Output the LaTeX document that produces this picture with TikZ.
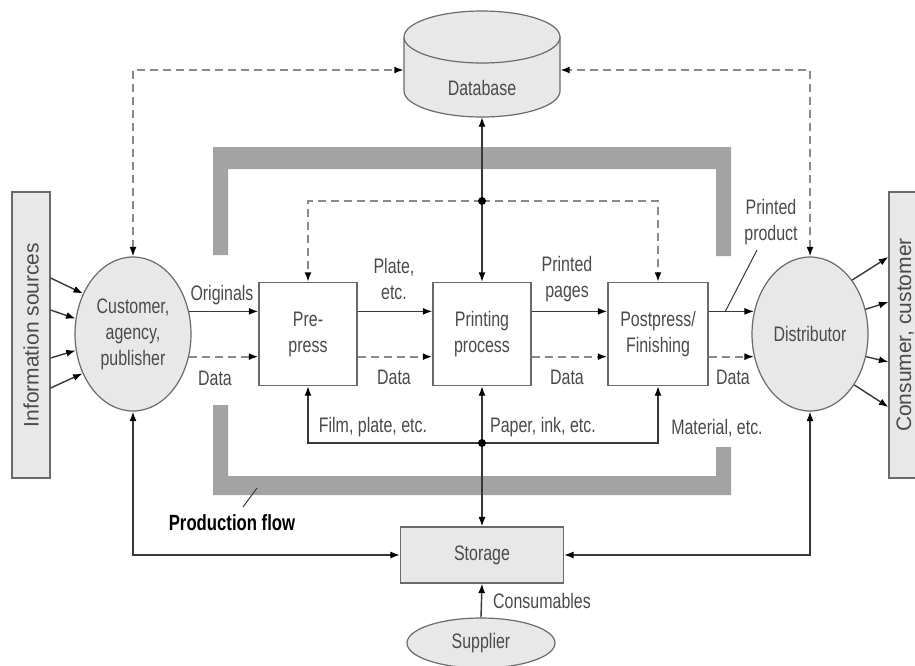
\documentclass[tikz,border=0pt]{standalone}
\usepackage{fontspec}
\setmainfont[FakeStretch=0.76]{Liberation Sans}
\newfontfamily\widefont{Liberation Sans}
\usetikzlibrary{arrows.meta,shapes.geometric,calc}
\definecolor{txt}{HTML}{4A4A4A}
\definecolor{bord}{HTML}{6A6A6A}
\definecolor{lightfill}{HTML}{E8E8E8}
\definecolor{lnc}{HTML}{383838}
\definecolor{dashc}{HTML}{8A8A8A}
\definecolor{flowc}{HTML}{A3A3A3}
\begin{document}
\begin{tikzpicture}[x=1pt,y=-1pt,
  every node/.style={font=\fontsize{21}{26}\selectfont, text=txt, inner sep=0pt},
  >={Latex[length=9.5pt,width=7pt,color=black]},
  greybox/.style={draw=bord, fill=lightfill, line width=1.2pt},
  procbox/.style={draw=bord, fill=white, line width=1.4pt, minimum width=98pt, minimum height=103pt, align=center},
  oval/.style={ellipse, draw=bord, fill=lightfill, line width=1.2pt, align=center},
  conn/.style={draw=lnc, line width=1.4pt},
  dline/.style={draw=dashc, line width=1.7pt, dash pattern=on 8pt off 5pt},
  lbl/.style={align=center},
  leader/.style={draw=lnc, line width=1pt}
]
\useasboundingbox (0,0) rectangle (915,665);

% production flow brackets
\fill[flowc] (213,147) -- (731,147) -- (731,256) -- (716,256) -- (716,169) -- (228,169) -- (228,255) -- (213,255) -- cycle;
\fill[flowc] (213,405) -- (228,405) -- (228,476) -- (716,476) -- (716,447) -- (731,447) -- (731,495) -- (213,495) -- cycle;

% database cylinder
\filldraw[fill=lightfill, draw=bord, line width=1.2pt] (404,37) -- (404,91) arc[start angle=180, end angle=0, x radius=78, y radius=26] -- (560,37);
\filldraw[fill=lightfill, draw=bord, line width=1.2pt] (482,37) ellipse [x radius=78, y radius=26];
\node (db) at (482,88) [minimum width=156pt, minimum height=58pt] {Database};

% side boxes
\node (info) at (31,335) [greybox, minimum width=38pt, minimum height=286pt] {\rotatebox{90}{\widefont Information sources}};
\node (cons) at (908,335) [greybox, minimum width=38pt, minimum height=286pt] {\hspace*{-6pt}\rotatebox{90}{\widefont Consumer, customer}};

% main nodes
\node (cust) at (133,334) [oval, minimum width=116pt, minimum height=154pt] {Customer,\\agency,\\publisher};
\node (dist) at (810,334) [oval, minimum width=116pt, minimum height=154pt] {Distributor};
\node (pre) at (308,334) [procbox] {Pre-\\press};
\node (print) at (482,334) [procbox] {Printing\\process};
\node (post) at (658,334) [procbox, minimum width=100pt] {Postpress/\\Finishing};
\node (stor) at (482,555) [greybox, minimum width=163pt, minimum height=56pt] {Storage};
\node (sup) at (481,643) [oval, minimum width=148pt, minimum height=50pt] {Supplier};

% information sources -> customer
\draw[conn,->] ([yshift=57pt]info.east) -- (cust.141);
\draw[conn,->] ([yshift=25pt]info.east) -- (cust.165);
\draw[conn,->] ([yshift=-23pt]info.east) -- (cust.196);
\draw[conn,->] ([yshift=-53pt]info.east) -- (cust.218);

% distributor -> consumers
\draw[conn,->] (dist.52) -- ([yshift=78pt]cons.west);
\draw[conn,->] (dist.24) -- ([yshift=33pt]cons.west);
\draw[conn,->] (dist.338) -- ([yshift=-27pt]cons.west);
\draw[conn,->] (dist.311) -- ([yshift=-72pt]cons.west);

% production chain
\draw[conn,->] (cust.22) -- (cust.22 -| pre.west);
\draw[dline,->] (cust.338) -- (cust.338 -| pre.west);
\draw[conn,->] (cust.22 -| pre.east) -- (cust.22 -| print.west);
\draw[dline,->] (cust.338 -| pre.east) -- (cust.338 -| print.west);
\draw[conn,->] (cust.22 -| print.east) -- (cust.22 -| post.west);
\draw[dline,->] (cust.338 -| print.east) -- (cust.338 -| post.west);
\draw[conn,->] (dist.158 -| post.east) -- (dist.158);
\draw[dline,->] (dist.202 -| post.east) -- (dist.202);

% database links
\draw[dline,<->] (cust.north) |- ([yshift=18pt]db.west);
\draw[dline,<->] (dist.north) |- ([yshift=18pt]db.east);

% top dashed distribution
\coordinate (dtop) at (482,201);
\coordinate (dbot) at (482,443);
\draw[dline,->] (dtop) -| (pre.north);
\draw[dline,->] (dtop) -| (post.north);
\draw[conn,<->] (db.south) -- (print.north);
\draw[conn,<->] (print.south) -- (stor.north);
\draw[conn,->] (dbot) -| (pre.south);
\draw[conn,->] (dbot) -| (post.south);
\fill[black] (dtop) circle (4pt);
\fill[black] (dbot) circle (4pt);

% storage links
\draw[conn,<->] (cust.south) |- (stor.west);
\draw[conn,<->] (dist.south) |- (stor.east);
\draw[conn,->] (sup.north) -- (stor.south);

% labels
\node (l1) at (222,295) {Originals};
\node (l2) at (215,378) {Data};
\node (l3) at (394,279) [lbl] {Plate,\\etc.};
\node (l4) at (394,377) {Data};
\node (l5) at (567,279) [lbl] {Printed\\pages};
\node (l6) at (567,377) {Data};
\node (l7) at (733,377) {Data};
\node (l8) at (771,222) [lbl] {Printed\\product};
\node (l9) at (373,427) {Film, plate, etc.};
\node (l10) at (543,427) {Paper, ink, etc.};
\node (l11) at (717,428) {Material, etc.};
\node (l12) at (542,601) {Consumables};
\node (pflow) at (232,523) [text=black, font=\fontsize{22}{26}\selectfont\bfseries] {Production flow};

\coordinate (pp1) at (757,250);
\coordinate (pp2) at (725,312);
\draw[leader] (pp1) -- (pp2);
\coordinate (pf1) at (257,488);
\coordinate (pf2) at (243,507);
\draw[leader] (pf1) -- (pf2);
\end{tikzpicture}
\end{document}
